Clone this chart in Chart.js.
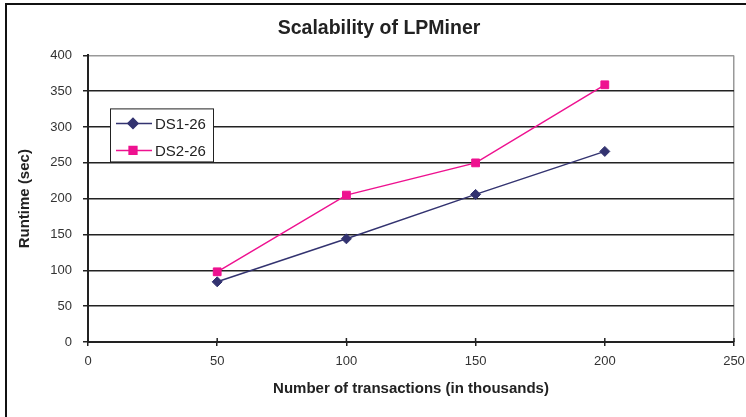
<!DOCTYPE html>
<html>
<head>
<meta charset="utf-8">
<script src="https://cdn.jsdelivr.net/npm/chart.js@4.4.1/dist/chart.umd.min.js"></script>
<style>
  html, body { margin: 0; padding: 0; background: #fff; }
  #wrap { position: relative; width: 746px; height: 417px; overflow: hidden; }
  #frame { position: absolute; left: 5px; top: 3px; width: 800px; height: 500px;
           border-left: 2px solid #111; border-top: 2px solid #111; pointer-events: none; }
  canvas { position: absolute; left: 0; top: 0; }
</style>
</head>
<body>
<div id="wrap">
  <canvas id="chart" width="746" height="417"></canvas>
  <div id="frame"></div>
</div>
<script>
// transactions (thousands)
const transactions = [50, 100, 150, 200];
// runtime in seconds
const ds1Runtime = [84, 144, 206, 266];
const ds2Runtime = [98, 205, 250, 359];
const seriesNames = ["DS1-26", "DS2-26"];
const xTicks = [0, 50, 100, 150, 200, 250];
const yTicks = [0, 50, 100, 150, 200, 250, 300, 350, 400];

const ds1Color = "#333370";
const ds2Color = "#ee1290";
const fontFamily = "'Liberation Sans', Arial, sans-serif";

// legend drawn inside the plot area, like the original
const insideLegend = {
  id: "insideLegend",
  afterDatasetsDraw(chart) {
    const ctx = chart.ctx;
    const area = chart.chartArea;
    const x0 = area.left + 22;
    const y0 = area.top + 53;
    const w = 103, h = 53;
    ctx.save();
    ctx.fillStyle = "#fff";
    ctx.fillRect(x0, y0, w, h);
    ctx.strokeStyle = "#222";
    ctx.lineWidth = 1;
    ctx.strokeRect(x0 + 0.5, y0 + 0.5, w, h);

    chart.data.datasets.forEach((ds, i) => {
      const cy = y0 + 15 + i * 27;
      ctx.strokeStyle = ds.borderColor;
      ctx.lineWidth = 1.5;
      ctx.beginPath();
      ctx.moveTo(x0 + 6, cy);
      ctx.lineTo(x0 + 42, cy);
      ctx.stroke();
      Chart.helpers.drawPoint(ctx, {
        pointStyle: ds.pointStyle,
        radius: ds.pointRadius,
        borderWidth: 1
      }, x0 + 23, cy);
      ctx.fillStyle = ds.borderColor;
      ctx.fill();
      ctx.fillStyle = "#222";
      ctx.font = "15px " + fontFamily;
      ctx.textBaseline = "middle";
      ctx.fillText(ds.label, x0 + 45, cy + 1);
    });
    ctx.restore();
  }
};

// small tick marks crossing the x axis upward
const innerTicks = {
  id: "innerTicks",
  afterDraw(chart) {
    const ctx = chart.ctx;
    const xs = chart.scales.x;
    const bottom = chart.chartArea.bottom;
    ctx.save();
    ctx.strokeStyle = "#222";
    ctx.lineWidth = 1.5;
    xs.ticks.forEach(t => {
      const px = xs.getPixelForValue(t.value);
      ctx.beginPath();
      ctx.moveTo(px, bottom - 4);
      ctx.lineTo(px, bottom);
      ctx.stroke();
    });
    ctx.restore();
  }
};

new Chart(document.getElementById("chart").getContext("2d"), {
  type: "line",
  data: {
    datasets: [
      {
        label: seriesNames[0],
        data: transactions.map((x, i) => ({ x: x, y: ds1Runtime[i] })),
        borderColor: ds1Color,
        backgroundColor: ds1Color,
        borderWidth: 1.5,
        pointStyle: "rectRot",
        pointRadius: 5,
        pointBorderWidth: 1,
        fill: false,
        tension: 0
      },
      {
        label: seriesNames[1],
        data: transactions.map((x, i) => ({ x: x, y: ds2Runtime[i] })),
        borderColor: ds2Color,
        backgroundColor: ds2Color,
        borderWidth: 1.5,
        pointStyle: "rect",
        pointRadius: 5.5,
        pointBorderWidth: 1,
        fill: false,
        tension: 0
      }
    ]
  },
  options: {
    responsive: false,
    animation: false,
    layout: { padding: { left: 12, right: 0, top: 0, bottom: 0 } },
    plugins: {
      legend: { display: false },
      tooltip: { enabled: false },
      title: {
        display: true,
        text: "Scalability of LPMiner",
        color: "#222",
        font: { family: fontFamily, size: 19.5, weight: "bold" },
        padding: { top: 17, bottom: 15 }
      }
    },
    scales: {
      x: {
        type: "linear",
        min: 0,
        max: 250,
        afterBuildTicks: (axis) => { axis.ticks = xTicks.map(v => ({ value: v })); },
        afterFit: (axis) => {
          axis.height = 75;
          axis.paddingLeft = 0;
          axis.paddingRight = 12;
        },
        ticks: {
          color: "#333",
          font: { family: fontFamily, size: 13 },
          padding: 8
        },
        grid: {
          drawOnChartArea: true,
          color: (c) => (c.tick && c.tick.value === 250 ? "#999" : "rgba(0,0,0,0)"),
          tickColor: "#222",
          tickLength: 4,
          lineWidth: 1.5
        },
        border: { display: true, color: "#222", width: 2 },
        title: {
          display: true,
          text: "Number of transactions (in thousands)",
          color: "#222",
          font: { family: fontFamily, size: 15, weight: "bold" },
          padding: { top: 0, bottom: 19 }
        }
      },
      y: {
        min: 0,
        max: 400,
        afterBuildTicks: (axis) => { axis.ticks = yTicks.map(v => ({ value: v })); },
        afterFit: (axis) => { axis.width = 76; },
        ticks: {
          color: "#333",
          font: { family: fontFamily, size: 13 },
          padding: 11
        },
        grid: {
          color: (c) => (c.tick && c.tick.value === 400 ? "#999" : "#222"),
          tickColor: "#222",
          tickLength: 5,
          lineWidth: 1.5
        },
        border: { display: true, color: "#222", width: 2 },
        title: {
          display: true,
          text: "Runtime (sec)",
          color: "#222",
          font: { family: fontFamily, size: 15, weight: "bold" },
          padding: { top: 4, bottom: 0 }
        }
      }
    }
  },
  plugins: [insideLegend, innerTicks]
});
</script>
</body>
</html>
